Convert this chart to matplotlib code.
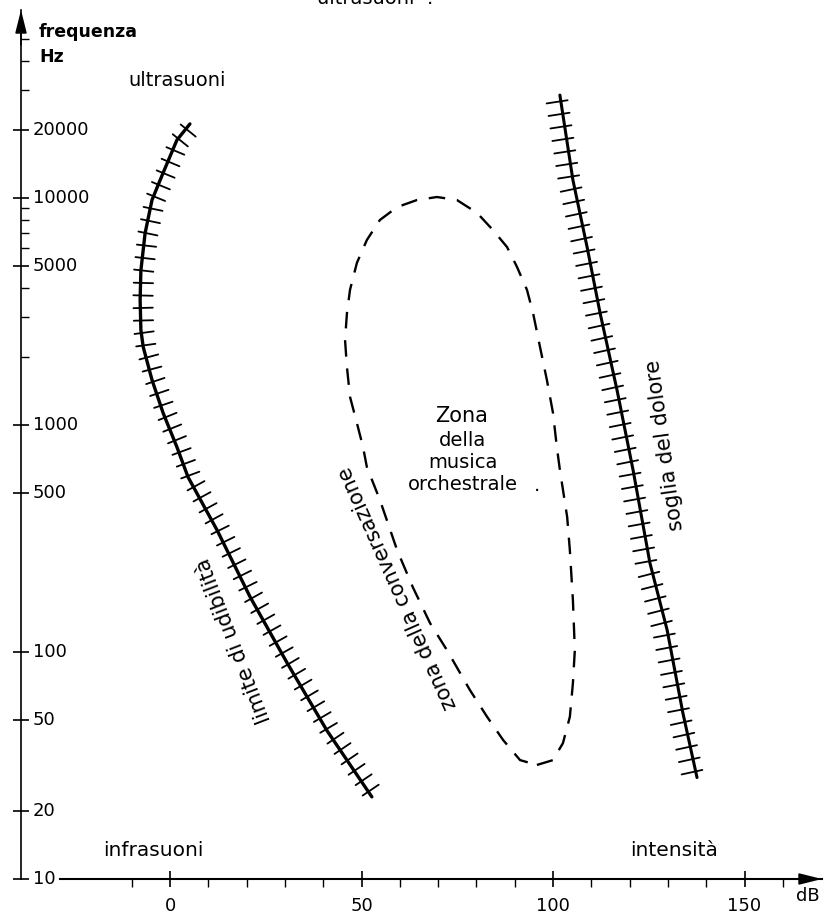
import numpy as np
import matplotlib.pyplot as plt
import matplotlib.patheffects as pe
from matplotlib.ticker import FixedLocator, FixedFormatter, NullFormatter

# limite di udibilita' (dB, Hz), read from top end to bottom end
udib_db = [5.2, 1.8, -1.8, -4.7, -6.5, -7.6, -7.8, -7.6, -7.0, -4.7, -1.8, 1.8, 4.7,
           12.3, 20.9, 30.5, 41.0, 52.7]
udib_hz = [21200, 18000, 12900, 9800, 7000, 4800, 3560, 2620, 2210, 1580, 1130, 800, 590,
           344, 175, 90, 45, 23]

# soglia del dolore
dolore_db = [101.8, 105.2, 108.9, 112.3, 116.7, 120.9, 125.3, 129.8, 133.9, 137.6]
dolore_hz = [28400, 12000, 6080, 3110, 1430, 634, 247, 125, 54, 28]

# zona della conversazione / musica orchestrale (closed dashed loop)
zona_db = [95.8, 100.0, 102.6, 104.4, 105.2, 105.7, 105.2, 104.4, 103.7, 101.8, 101.0,
           100.0, 98.4, 96.6, 94.8, 93.2, 90.6, 88.0, 84.3, 80.2, 74.9, 69.7, 64.5, 59.3,
           54.8, 51.4, 48.8, 47.0, 46.2, 45.7, 46.2, 47.0, 48.8, 50.4, 51.4, 54.8, 59.3,
           63.4, 67.9, 72.3, 78.3, 82.8, 87.0, 91.4, 95.8]
zona_hz = [31.8, 33.4, 39.7, 51.8, 73, 102, 169, 281, 393, 634, 800,
           1130, 1580, 2210, 3110, 3940, 4970, 6080, 7230, 8590, 9800, 10100, 9800, 9120,
           8000, 6530, 5180, 3940, 3110, 2370, 1800, 1330, 1020, 800, 653, 468, 281,
           193, 134, 102, 68, 51.8, 40.9, 33.4, 31.8]

x_major = [0, 50, 100, 150]
x_minor = [-10, 10, 20, 30, 40, 60, 70, 80, 90, 110, 120, 130, 140, 160]
y_major = [10, 20, 50, 100, 500, 1000, 5000, 10000, 20000]
y_labels = ['10', '20', '50', '100', '500', '1000', '5000', '10000', '20000']
y_minor = [2000, 3000, 4000, 6000, 7000, 8000, 9000, 30000, 40000, 50000]

W, H = 826, 916
fig = plt.figure(figsize=(W / 100, H / 100), dpi=100)


def px(x, y):
    return x / W, 1 - y / H


# axes box in pixels: y axis at x=21, x axis at y=879, arrows end at x=822 / y=10
ax = fig.add_axes([21 / W, 1 - 879 / H, (822 - 21) / W, (879 - 10) / H])
ax.set_yscale('log')
ax.set_xlim((21 - 170) / 3.83, (822 - 170) / 3.83)
ax.set_ylim(10, 10 ** (1 + (879 - 10) / 227))

for s in ['top', 'right']:
    ax.spines[s].set_visible(False)
ax.spines['left'].set_linewidth(1.2)
ax.spines['bottom'].set_linewidth(1.5)
ax.spines['bottom'].set_bounds((60 - 170) / 3.83, ax.get_xlim()[1])

arrow = dict(arrowstyle='-|>,head_length=1.4,head_width=0.35', color='k', lw=1.2,
             shrinkA=0, shrinkB=0)
ax.annotate('', xy=(0, 1), xytext=(0, 0.96), xycoords='axes fraction', arrowprops=arrow)
ax.annotate('', xy=(1, 0), xytext=(0.96, 0), xycoords='axes fraction', arrowprops=arrow)

ax.xaxis.set_major_locator(FixedLocator(x_major))
ax.xaxis.set_major_formatter(FixedFormatter([str(v) for v in x_major]))
ax.xaxis.set_minor_locator(FixedLocator(x_minor))
ax.yaxis.set_major_locator(FixedLocator(y_major))
ax.yaxis.set_minor_locator(FixedLocator(y_minor))
ax.yaxis.set_minor_formatter(NullFormatter())
ax.tick_params(axis='x', which='major', direction='inout', length=12, width=1.2,
               labelsize=13, pad=7)
ax.tick_params(axis='x', which='minor', direction='out', length=6, width=1.0)
ax.tick_params(axis='y', which='major', direction='inout', length=12, width=1.2,
               labelleft=False)
ax.tick_params(axis='y', which='minor', direction='in', length=6, width=1.0)

for v, s in zip(y_major, y_labels):
    ax.text(12 / 801, v, s, transform=ax.get_yaxis_transform(), ha='left', va='center',
            fontsize=13)

# hatched curves
ax.plot(udib_db, udib_hz, color='k', lw=2.4, solid_capstyle='round',
        path_effects=[pe.TickedStroke(angle=90, spacing=9, length=1.0, linewidth=1.3),
                      pe.TickedStroke(angle=-90, spacing=9, length=0.55, linewidth=1.3),
                      pe.Normal()])
ax.plot(dolore_db, dolore_hz, color='k', lw=2.2, solid_capstyle='round',
        path_effects=[pe.TickedStroke(angle=90, spacing=9, length=0.55, linewidth=1.3),
                      pe.TickedStroke(angle=-90, spacing=9, length=1.15, linewidth=1.3),
                      pe.Normal()])
# dashed loop
ax.plot(zona_db, zona_hz, color='k', lw=1.7, linestyle=(0, (7, 5)))

# texts
fig.text(*px(39, 37), 'frequenza', fontsize=12.5, fontweight='bold')
fig.text(*px(39, 62), 'Hz', fontsize=12.5, fontweight='bold')
fig.text(*px(128, 81), 'ultrasuoni', fontsize=14, va='center')
fig.text(*px(317, 4), 'ultrasuoni  .', fontsize=14, va='baseline')
fig.text(*px(103, 851), 'infrasuoni', fontsize=14.5, va='center')
fig.text(*px(630, 850), 'intensità', fontsize=14.5, va='center')
fig.text(*px(808, 896), 'dB', fontsize=13, ha='center', va='center')

fig.text(*px(462, 416), 'Zona', fontsize=15, ha='center', va='center')
fig.text(*px(463, 440), 'della', fontsize=14, ha='center', va='center')
fig.text(*px(463, 463), 'musica', fontsize=14, ha='center', va='center')
fig.text(*px(463, 485), 'orchestrale', fontsize=14, ha='center', va='center')
fig.text(*px(537, 486), '.', fontsize=14, ha='center', va='center')

fig.text(*px(234, 640), 'limite di udibilità', fontsize=15, rotation=111,
         rotation_mode='anchor', ha='center', va='center')
fig.text(*px(398, 588), 'zona della conversazione', fontsize=15, rotation=114,
         rotation_mode='anchor', ha='center', va='center')
fig.text(*px(665, 445), 'soglia del dolore', fontsize=15, rotation=98,
         rotation_mode='anchor', ha='center', va='center')

fig.savefig('out.png', dpi=100, facecolor='white')
